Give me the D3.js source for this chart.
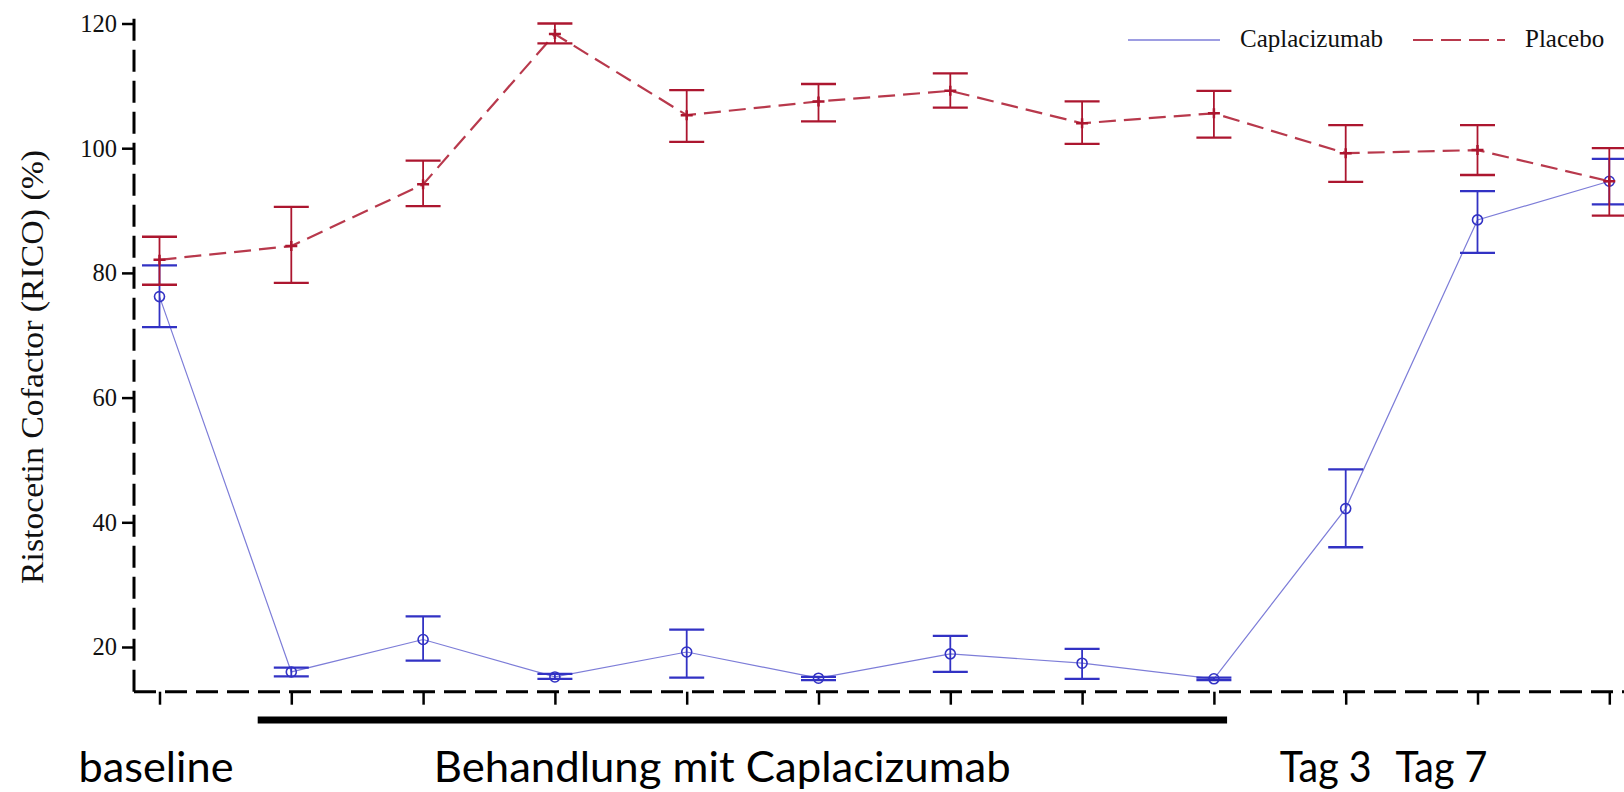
<!DOCTYPE html>
<html>
<head>
<meta charset="utf-8">
<script src="https://cdn.jsdelivr.net/npm/d3@7"></script>
<style>
  html, body { margin: 0; padding: 0; background: #ffffff; overflow: hidden; }
  svg { display: block; }
</style>
</head>
<body>
<script>
// Visit index along the x axis (12 scheduled visits)
const visits = ["BL", "V1", "V2", "V3", "V4", "V5", "V6", "V7", "V8", "V9", "V10", "V11"];

// Ristocetin cofactor (%) — mean with lower/upper error limits
const capMean = [76.2, 16.0, 21.2, 15.2, 19.2, 15.0, 18.9, 17.4, 14.9, 42.2, 88.5, 94.7];
const capLow  = [71.3, 15.3, 17.8, 14.9, 15.1, 14.7, 16.0, 14.9, 14.7, 36.0, 83.2, 91.0];
const capHigh = [81.2, 16.7, 24.9, 15.7, 22.8, 15.2, 21.8, 19.7, 15.1, 48.5, 93.1, 98.3];

const plaMean = [82.1, 84.3, 94.2, 118.3, 105.3, 107.5, 109.2, 104.0, 105.6, 99.2, 99.7, 94.7];
const plaLow  = [78.1, 78.4, 90.7, 116.8, 101.0, 104.3, 106.5, 100.7, 101.7, 94.6, 95.7, 89.2];
const plaHigh = [85.8, 90.6, 98.0, 120.0, 109.3, 110.3, 112.0, 107.5, 109.2, 103.7, 103.7, 100.0];

const yTicks = [20, 40, 60, 80, 100, 120];
const seriesNames = ["Caplacizumab", "Placebo"];
const phaseLabels = ["baseline", "Behandlung mit Caplacizumab", "Tag 3", "Tag 7"];

const W = 1624, H = 792;
const axisX = 134, axisY = 691.7;

const svg = d3.select("body").append("svg").attr("width", W).attr("height", H);

const x = d3.scaleLinear().domain([0, visits.length - 1]).range([159.5, 1609.3]);
const y = d3.scaleLinear().domain([20, 120]).range([647, 23.5]);

const BLUE = "#3232c4", BLUE_LINE = "#7d7dd8";
const RED = "#ac162f", RED_LINE = "#b8394c";
const serif = "'Liberation Serif', 'Times New Roman', serif";

// ---- axes ----
const yAxis = d3.axisLeft(y).tickValues(yTicks).tickSize(12).tickPadding(5).tickFormat(d3.format("d"));
const gy = svg.append("g").attr("transform", `translate(${axisX},0)`).call(yAxis);
gy.select(".domain").remove();
gy.selectAll(".tick line").attr("stroke", "#000").attr("stroke-width", 2.5);
gy.selectAll(".tick text").attr("font-family", serif).attr("font-size", 24.5).attr("fill", "#111");

const xAxis = d3.axisBottom(x).tickValues(d3.range(visits.length)).tickSize(13).tickFormat("");
const gx = svg.append("g").attr("transform", `translate(0,${axisY})`).call(xAxis);
gx.select(".domain").remove();
gx.selectAll(".tick line").attr("stroke", "#000").attr("stroke-width", 2.5);

// dashed axis lines, both starting from the corner
svg.append("path")
  .attr("d", `M${axisX},${axisY}V10`)
  .attr("fill", "none").attr("stroke", "#000").attr("stroke-width", 3)
  .attr("stroke-dasharray", "22,9");
svg.append("path")
  .attr("d", `M${axisX},${axisY}H${W}`)
  .attr("fill", "none").attr("stroke", "#000").attr("stroke-width", 3)
  .attr("stroke-dasharray", "22,9");

// y axis title
svg.append("text")
  .attr("transform", `translate(43,367) rotate(-90)`)
  .attr("text-anchor", "middle")
  .attr("font-family", serif).attr("font-size", 32).attr("fill", "#111")
  .attr("textLength", 434).attr("lengthAdjust", "spacingAndGlyphs")
  .text("Ristocetin Cofactor (RICO) (%)");

// ---- series ----
const series = [
  { name: seriesNames[0], mean: capMean, low: capLow, high: capHigh, color: BLUE, line: BLUE_LINE, dash: null, lw: 1.2, marker: "circle" },
  { name: seriesNames[1], mean: plaMean, low: plaLow, high: plaHigh, color: RED, line: RED_LINE, dash: "17,8", lw: 2.2, marker: "plus" }
];

const capHalf = 17.5;
const lineGen = d3.line().x((d, i) => x(i)).y(d => y(d));

series.forEach(s => {
  const g = svg.append("g");
  g.append("path")
    .attr("d", lineGen(s.mean))
    .attr("fill", "none").attr("stroke", s.line).attr("stroke-width", s.lw)
    .attr("stroke-dasharray", s.dash);

  const eb = g.selectAll(".eb").data(s.mean.map((m, i) => ({ i, m, lo: s.low[i], hi: s.high[i] })))
    .enter().append("g");
  eb.append("line")
    .attr("x1", d => x(d.i)).attr("x2", d => x(d.i))
    .attr("y1", d => y(d.lo)).attr("y2", d => y(d.hi))
    .attr("stroke", s.color).attr("stroke-width", 1.8);
  eb.append("line")
    .attr("x1", d => x(d.i) - capHalf).attr("x2", d => x(d.i) + capHalf)
    .attr("y1", d => y(d.hi)).attr("y2", d => y(d.hi))
    .attr("stroke", s.color).attr("stroke-width", 2.3);
  eb.append("line")
    .attr("x1", d => x(d.i) - capHalf).attr("x2", d => x(d.i) + capHalf)
    .attr("y1", d => y(d.lo)).attr("y2", d => y(d.lo))
    .attr("stroke", s.color).attr("stroke-width", 2.3);

  if (s.marker === "circle") {
    eb.append("circle")
      .attr("cx", d => x(d.i)).attr("cy", d => y(d.m)).attr("r", 5)
      .attr("fill", "none").attr("stroke", s.color).attr("stroke-width", 1.6);
  } else {
    eb.append("path")
      .attr("transform", d => `translate(${x(d.i)},${y(d.m)})`)
      .attr("d", "M-6,0H6M0,-5V5")
      .attr("fill", "none").attr("stroke", s.color).attr("stroke-width", 2.5);
  }
});

// ---- legend ----
const legend = svg.append("g");
legend.append("line").attr("x1", 1128).attr("x2", 1220).attr("y1", 40).attr("y2", 40)
  .attr("stroke", BLUE_LINE).attr("stroke-width", 1.3);
legend.append("text").attr("x", 1240).attr("y", 47)
  .attr("font-family", serif).attr("font-size", 25).attr("fill", "#111").text(seriesNames[0]);
legend.append("line").attr("x1", 1413).attr("x2", 1505).attr("y1", 40).attr("y2", 40)
  .attr("stroke", RED_LINE).attr("stroke-width", 2.2).attr("stroke-dasharray", "20,8");
legend.append("text").attr("x", 1525).attr("y", 47)
  .attr("font-family", serif).attr("font-size", 25).attr("fill", "#111").text(seriesNames[1]);

// ---- treatment period bar and phase labels ----
svg.append("rect")
  .attr("x", x(0.745)).attr("width", x(8.1) - x(0.745))
  .attr("y", 716.5).attr("height", 7)
  .attr("fill", "#000");

const sans = "Lato, 'Open Sans', sans-serif";
const labelPos = [
  { text: phaseLabels[0], cx: x(0) - 3.5, len: 155 },
  { text: phaseLabels[1], cx: x(4.27), len: 577 },
  { text: phaseLabels[2], cx: x(9) - 20, len: 92 },
  { text: phaseLabels[3], cx: x(10) - 36, len: 92 }
];
svg.selectAll(".phase").data(labelPos).enter().append("text")
  .attr("x", d => d.cx).attr("y", 782)
  .attr("text-anchor", "middle")
  .attr("font-family", sans).attr("font-size", 43).attr("font-weight", 400).attr("fill", "#000")
  .attr("textLength", d => d.len).attr("lengthAdjust", "spacingAndGlyphs")
  .text(d => d.text);
</script>
</body>
</html>
